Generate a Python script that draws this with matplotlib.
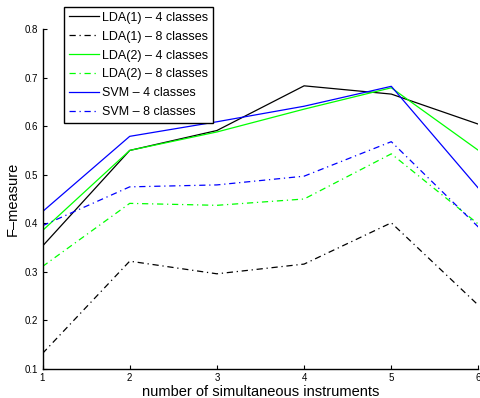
import matplotlib
matplotlib.use("Agg")
import matplotlib.pyplot as plt

x = [1, 2, 3, 4, 5, 6]
lda1_4 = [0.353, 0.550, 0.591, 0.683, 0.666, 0.604]
lda1_8 = [0.132, 0.322, 0.296, 0.316, 0.401, 0.231]
lda2_4 = [0.385, 0.550, 0.588, 0.635, 0.679, 0.550]
lda2_8 = [0.311, 0.441, 0.437, 0.450, 0.543, 0.398]
svm_4 = [0.424, 0.579, 0.609, 0.641, 0.682, 0.472]
svm_8 = [0.395, 0.475, 0.479, 0.497, 0.568, 0.392]
labels = ["LDA(1) – 4 classes", "LDA(1) – 8 classes", "LDA(2) – 4 classes",
          "LDA(2) – 8 classes", "SVM – 4 classes", "SVM – 8 classes"]

plt.rcParams['font.family'] = ['Liberation Sans', 'DejaVu Sans']

fig = plt.figure(figsize=(4.81, 3.98), dpi=100)
ax = fig.add_axes([42.5/481, 1-369/398, 436/481, 340/398])

dd = (0, (5, 3, 1, 3))
lw = 0.9
ax.plot(x, lda1_4, color='k', lw=lw, ls='-', label=labels[0])
ax.plot(x, lda1_8, color='k', lw=lw, ls=dd, label=labels[1])
ax.plot(x, lda2_4, color=(0, 1, 0), lw=lw, ls='-', label=labels[2])
ax.plot(x, lda2_8, color=(0, 1, 0), lw=lw, ls=dd, label=labels[3])
ax.plot(x, svm_4, color=(0, 0, 1), lw=lw, ls='-', label=labels[4])
ax.plot(x, svm_8, color=(0, 0, 1), lw=lw, ls=dd, label=labels[5])

ax.set_xlim(1, 6)
ax.set_ylim(0.1, 0.8)
ax.set_xticks(x)
ax.set_yticks([0.1, 0.2, 0.3, 0.4, 0.5, 0.6, 0.7, 0.8])
ax.set_yticklabels(["0.1", "0.2", "0.3", "0.4", "0.5", "0.6", "0.7", "0.8"])
ax.spines['top'].set_visible(False)
ax.spines['right'].set_visible(False)
for s in ['left', 'bottom']:
    ax.spines[s].set_linewidth(1.0)
ax.tick_params(direction='in', length=3, width=0.8, labelsize=7, pad=3)
ax.set_xlabel("number of simultaneous instruments", fontsize=10.5, labelpad=1)
ax.set_ylabel("F–measure", fontsize=10.5, labelpad=4)

leg = ax.legend(loc='upper left', bbox_to_anchor=(64/481, 1-7/398),
                bbox_transform=fig.transFigure, fontsize=9.0, frameon=True,
                fancybox=False, handlelength=2.4, handletextpad=0.3,
                borderpad=0.38, labelspacing=0.55, borderaxespad=0)
leg.get_frame().set_edgecolor('k')
leg.get_frame().set_linewidth(1.0)
leg.get_frame().set_alpha(1)

fig.savefig("out.png", dpi=100)
